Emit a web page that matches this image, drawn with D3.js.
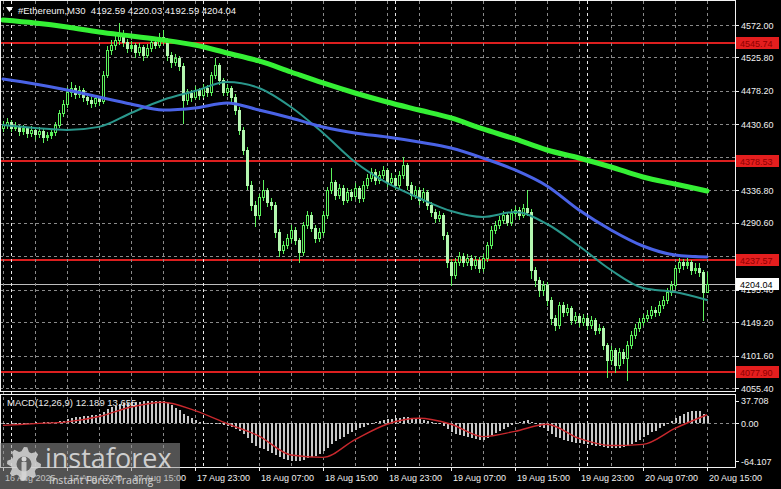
<!DOCTYPE html>
<html><head><meta charset="utf-8">
<script src="https://cdn.jsdelivr.net/npm/d3@7/dist/d3.min.js"></script>
<style>html,body{margin:0;padding:0;background:#000;overflow:hidden}svg{display:block}</style>
</head><body>
<svg id="c" width="781" height="489"></svg>
<script>
// ---------- DATA ----------
const opens = [
4425.0,4429.7,4434.0,4425.4,4428.3,4421.2,4425.4,4418.3,4422.6,4416.9,
4421.2,4412.6,4415.5,4419.7,4429.7,4446.8,4459.6,4476.7,4482.4,4473.8,
4479.5,4469.5,4465.3,4461.0,4468.1,4463.9,4500.9,4536.4,4543.5,4550.7,
4560.6,4547.8,4539.3,4543.5,4533.6,4540.7,4529.3,4539.3,4547.8,4543.5,
4554.9,4550.7,4529.3,4519.4,4525.0,4513.7,4465.3,4475.2,4469.5,4479.5,
4472.4,4482.4,4476.7,4500.9,4515.1,4493.7,4476.7,4482.4,4469.5,4451.0,
4422.6,4394.1,4344.3,4315.8,4301.6,4327.2,4337.2,4320.1,4315.8,4277.4,
4251.8,4258.9,4268.9,4280.3,4266.0,4249.0,4287.4,4301.6,4283.1,4268.9,
4277.4,4301.6,4337.2,4348.6,4330.1,4340.0,4323.0,4334.3,4328.7,4340.0,
4325.8,4344.3,4354.3,4362.8,4351.4,4358.5,4365.7,4348.6,4354.3,4344.3,
4358.5,4372.8,4344.3,4330.1,4337.2,4323.0,4334.3,4315.8,4305.9,4297.3,
4301.6,4273.2,4234.7,4216.2,4234.7,4243.3,4234.7,4240.4,4230.5,4237.6,
4226.2,4240.4,4258.9,4280.3,4287.4,4294.5,4301.6,4291.7,4304.5,4308.7,
4301.6,4311.6,4305.9,4223.3,4209.1,4194.9,4202.0,4180.7,4155.0,4145.1,
4173.5,4163.6,4169.3,4152.2,4157.9,4149.3,4155.0,4145.1,4152.2,4138.0,
4140.8,4116.6,4095.3,4109.5,4088.2,4106.7,4098.1,4116.6,4130.8,4140.8,
4149.3,4155.0,4159.3,4166.4,4163.6,4173.5,4180.7,4192.0,4202.0,4226.2,
4234.7,4230.5,4234.7,4223.3,4226.2,4220.5,4192.59];
const highs = [
4436.0,4440.2,4437.5,4433.9,4430.1,4429.8,4427.0,4428.4,4424.5,4426.7,
4423.8,4420.4,4424.3,4434.6,4451.2,4465.0,4484.3,4490.6,4486.1,4485.7,
4482.0,4473.0,4469.4,4472.9,4471.6,4506.3,4542.0,4550.1,4556.9,4574.9,
4564.3,4551.7,4549.2,4546.8,4546.0,4543.2,4544.5,4553.0,4551.6,4560.2,
4564.9,4553.4,4533.1,4530.8,4527.9,4518.0,4481.0,4479.6,4485.2,4483.0,
4488.7,4486.3,4505.4,4525.0,4518.3,4497.0,4488.1,4485.9,4473.2,4454.8,
4427.0,4398.2,4349.6,4321.0,4331.5,4351.4,4340.5,4326.3,4319.9,4281.2,
4265.1,4274.5,4286.8,4284.0,4269.5,4292.1,4308.0,4305.2,4287.0,4283.3,
4306.9,4342.0,4368.5,4352.0,4346.2,4343.8,4340.0,4338.1,4346.5,4343.2,
4349.8,4360.0,4368.9,4366.4,4364.1,4372.0,4369.2,4360.7,4358.0,4364.0,
4384.2,4376.0,4348.2,4343.0,4340.9,4339.6,4337.4,4320.2,4310.0,4307.0,
4305.0,4277.0,4239.5,4240.0,4249.5,4248.0,4246.1,4244.3,4243.0,4241.2,
4245.6,4263.8,4285.5,4293.0,4300.1,4307.4,4305.3,4310.2,4314.6,4312.3,
4317.0,4337.2,4309.5,4228.0,4213.4,4208.3,4205.6,4184.3,4160.0,4178.0,
4177.2,4175.0,4172.8,4163.5,4161.4,4160.7,4158.6,4158.0,4155.5,4146.3,
4144.0,4120.1,4115.8,4113.0,4112.2,4110.6,4122.0,4136.5,4146.9,4155.0,
4161.2,4165.8,4172.0,4170.5,4179.2,4186.0,4197.5,4208.1,4231.0,4240.2,
4238.9,4239.8,4237.5,4232.6,4233.0,4224.0,4220.03];
const lows = [
4421.5,4426.1,4420.8,4422.0,4415.6,4417.3,4412.9,4414.1,4410.2,4413.0,
4405.1,4408.8,4411.2,4416.0,4426.4,4441.9,4455.2,4471.5,4468.0,4469.3,
4464.2,4459.8,4455.7,4457.3,4458.2,4460.5,4497.8,4530.2,4538.4,4545.0,
4542.5,4533.0,4534.6,4527.1,4529.9,4522.4,4525.8,4535.1,4538.7,4540.0,
4545.3,4522.0,4512.6,4515.2,4508.3,4432.5,4460.1,4463.8,4466.0,4467.1,
4469.0,4471.2,4473.0,4496.2,4488.4,4471.9,4472.5,4463.0,4445.6,4416.3,
4388.5,4338.0,4309.4,4286.2,4297.0,4322.8,4315.0,4309.7,4270.1,4243.5,
4247.0,4254.2,4263.7,4260.6,4234.7,4245.2,4283.0,4278.4,4263.5,4264.0,
4273.8,4298.0,4333.5,4324.8,4326.0,4317.1,4319.4,4322.5,4324.9,4320.0,
4321.6,4340.2,4349.5,4346.0,4347.3,4354.0,4343.5,4344.1,4339.2,4340.6,
4354.9,4339.0,4324.7,4326.3,4317.5,4319.8,4310.0,4300.4,4291.5,4292.8,
4266.9,4228.3,4202.0,4212.3,4230.0,4229.6,4230.8,4224.7,4226.0,4219.8,
4222.1,4236.5,4255.0,4275.7,4283.2,4290.0,4286.8,4288.0,4300.1,4296.4,
4298.2,4301.0,4212.0,4200.5,4186.0,4188.2,4172.9,4146.2,4137.5,4141.0,
4158.4,4159.0,4146.0,4147.6,4143.8,4145.0,4139.3,4141.5,4132.0,4133.1,
4110.2,4071.0,4090.0,4078.4,4083.5,4090.3,4066.8,4112.0,4126.3,4136.0,
4144.5,4150.1,4154.7,4158.2,4159.8,4168.9,4176.3,4187.4,4198.0,4221.0,
4225.1,4226.4,4218.0,4219.4,4215.1,4152.2,4192.59];
const closes = [
4429.7,4434.0,4425.4,4428.3,4421.2,4425.4,4418.3,4422.6,4416.9,4421.2,
4412.6,4415.5,4419.7,4429.7,4446.8,4459.6,4476.7,4482.4,4473.8,4479.5,
4469.5,4465.3,4461.0,4468.1,4463.9,4500.9,4536.4,4543.5,4550.7,4560.6,
4547.8,4539.3,4543.5,4533.6,4540.7,4529.3,4539.3,4547.8,4543.5,4554.9,
4550.7,4529.3,4519.4,4525.0,4513.7,4465.3,4475.2,4469.5,4479.5,4472.4,
4482.4,4476.7,4500.9,4515.1,4493.7,4476.7,4482.4,4469.5,4451.0,4422.6,
4394.1,4344.3,4315.8,4301.6,4327.2,4337.2,4320.1,4315.8,4277.4,4251.8,
4258.9,4268.9,4280.3,4266.0,4249.0,4287.4,4301.6,4283.1,4268.9,4277.4,
4301.6,4337.2,4348.6,4330.1,4340.0,4323.0,4334.3,4328.7,4340.0,4325.8,
4344.3,4354.3,4362.8,4351.4,4358.5,4365.7,4348.6,4354.3,4344.3,4358.5,
4372.8,4344.3,4330.1,4337.2,4323.0,4334.3,4315.8,4305.9,4297.3,4301.6,
4273.2,4234.7,4216.2,4234.7,4243.3,4234.7,4240.4,4230.5,4237.6,4226.2,
4240.4,4258.9,4280.3,4287.4,4294.5,4301.6,4291.7,4304.5,4308.7,4301.6,
4311.6,4305.9,4223.3,4209.1,4194.9,4202.0,4180.7,4155.0,4145.1,4173.5,
4163.6,4169.3,4152.2,4157.9,4149.3,4155.0,4145.1,4152.2,4138.0,4140.8,
4116.6,4095.3,4109.5,4088.2,4106.7,4098.1,4116.6,4130.8,4140.8,4149.3,
4155.0,4159.3,4166.4,4163.6,4173.5,4180.7,4192.0,4202.0,4226.2,4234.7,
4230.5,4234.7,4223.3,4226.2,4220.5,4192.59,4204.04];

// moving averages and MACD signal, sampled every 8 bars
const sampleIdx = [0,8,16,24,32,40,48,56,64,72,80,88,96,104,112,120,128,136,144,152,160,168,176];
const ma200 = [4579.1,4574.9,4569.2,4562.0,4556.4,4550.7,4543.5,4532.2,4520.8,4505.1,4489.5,4475.2,4462.4,4451.0,4439.7,4424.0,4409.8,4394.1,4382.7,4369.9,4355.7,4345.7,4335.8];
const ma100 = [4495.2,4488.0,4479.5,4469.5,4459.6,4451.0,4453.9,4461.0,4451.0,4439.7,4426.9,4418.3,4412.6,4405.5,4397.0,4382.7,4365.7,4342.9,4308.7,4280.3,4257.5,4244.7,4241.8];
const ma50  = [4429.7,4425.4,4422.6,4427.0,4446.8,4465.3,4478.1,4490.9,4482.4,4455.3,4418.3,4377.0,4347.2,4325.8,4307.3,4298.8,4305.9,4288.8,4257.5,4223.3,4197.7,4192.0,4180.7];
const macdSignal = [-4,-1,2,11,27,35,21,-1,-22,-54,-58,-28,-2,8,-2,-23,-14,-2,-26,-38,-36,-9,14];

const macdMain = [
0.5,0.3,-0.2,0.4,0.8,0.5,0.2,0.6,1.0,0.8,
1.2,0.9,1.1,1.8,2.9,4.2,6.0,8.0,10.0,11.0,
12.0,12.5,13.0,14.0,15.0,19.0,24.0,27.0,29.0,31.5,
33.0,34.0,35.0,35.5,36.0,36.5,37.0,37.708,37.5,37.3,
37.0,33.0,30.0,26.0,22.0,16.0,12.0,8.0,5.0,2.0,
0.5,-1.0,-1.5,-1.0,-2.0,-4.0,-5.0,-7.0,-10.0,-14.0,
-19,-26,-33,-39,-42,-44,-47,-50,-54,-58,
-61,-62.5,-63.5,-64.107,-64.0,-62,-59,-57,-55,-52,
-48,-42,-36,-31,-27,-23,-19,-16,-12,-9,
-6,-3,-1,1,3,5,6,7,8,9,
11,10.5,9,8,6,5,3,1,-1,-2,
-5,-10,-15,-18,-20,-22,-24,-26,-27,-29,
-28,-25,-21,-17,-13,-10,-7,-4,-2,1,
3,5,2,-2,-6,-9,-13,-18,-23,-26,
-28,-30,-32,-33,-34,-35,-36,-37,-38,-39,
-40,-42,-42,-43,-42,-41,-39,-36,-32,-28,
-24,-20,-16,-13,-9,-5,-1,3,8,12,
15,18,20,21,20,15,12.189];

const priceTicks = [4572.00,4525.80,4478.20,4430.60,4384.40,4336.80,4290.60,4243.00,4195.40,4149.20,4101.60,4055.40];
const levels = [4545.74,4378.53,4237.57,4077.90];
const lastPrice = 4204.04;
const macdTicks = [37.708,0.00,-64.107];
const macdTickText = ["37.708","0.00","-64.107"];
const timeIdx = [0,16,32,48,64,80,96,112,128,144,160,176];
const timeLabels = ["16 Aug 2025","17 Aug 07:00","17 Aug 15:00","17 Aug 23:00","18 Aug 07:00","18 Aug 15:00","18 Aug 23:00","19 Aug 07:00","19 Aug 15:00","19 Aug 23:00","20 Aug 07:00","20 Aug 15:00"];
const daySepIdx = [2,50,98,146];
const titleText = "#Ethereum,M30  4192.59 4220.03 4192.59 4204.04";
const macdTitle = "MACD(12,26,9) 12.189 13.655";

// ---------- DRAW ----------
const svg = d3.select('#c');
const FONT = "'Liberation Sans', Arial, sans-serif";
const N = closes.length;
const x = d3.scaleLinear().domain([0, 176]).range([3, 707]);
const y = d3.scaleLinear().domain([4055.4, 4572]).range([388, 25]);
const ym = d3.scaleLinear().domain([-64.107, 37.708]).range([461, 400.7]);
const px = v => Math.round(v) + 0.5;
const RIGHT = 735, MAIN_B = 391, SUB_T = 394, SUB_B = 467;

svg.append('rect').attr('width', 781).attr('height', 489).attr('fill', '#000');

const defs = svg.append('defs');
defs.append('clipPath').attr('id', 'cm').append('rect').attr('x', 1).attr('y', 1).attr('width', RIGHT - 1).attr('height', MAIN_B - 1);
defs.append('clipPath').attr('id', 'cs').append('rect').attr('x', 1).attr('y', SUB_T + 1).attr('width', RIGHT - 1).attr('height', SUB_B - SUB_T - 1);

const gridC = '#8a8a8a';
const gm = svg.append('g').attr('clip-path', 'url(#cm)').attr('shape-rendering', 'crispEdges');
gm.selectAll('.hg').data(priceTicks).join('line')
  .attr('x1', 0).attr('x2', RIGHT).attr('y1', d => px(y(d))).attr('y2', d => px(y(d)))
  .attr('stroke', gridC).attr('stroke-dasharray', '3,3');
const gv = svg.append('g').attr('shape-rendering', 'crispEdges');
gv.selectAll('.vg').data(sampleIdx).join('line')
  .attr('x1', d => px(x(d))).attr('x2', d => px(x(d))).attr('y1', 1).attr('y2', SUB_B)
  .attr('stroke', gridC).attr('stroke-dasharray', '3,3');
gv.selectAll('.ds').data(daySepIdx).join('line')
  .attr('x1', d => px(x(d))).attr('x2', d => px(x(d))).attr('y1', 1).attr('y2', SUB_B)
  .attr('stroke', '#e8e8e8').attr('stroke-dasharray', '3,3');
svg.append('line').attr('x1', 0).attr('x2', RIGHT).attr('y1', px(ym(0))).attr('y2', px(ym(0)))
  .attr('stroke', gridC).attr('stroke-dasharray', '3,3').attr('shape-rendering', 'crispEdges');

gm.append('line').attr('x1', 0).attr('x2', RIGHT).attr('y1', px(y(lastPrice))).attr('y2', px(y(lastPrice)))
  .attr('stroke', '#bdbdbd');

// candles
const candleG = svg.append('g').attr('clip-path', 'url(#cm)').attr('shape-rendering', 'crispEdges');
const idx = d3.range(N);
const candleC = '#5cf25c';
candleG.selectAll('.wick').data(idx).join('line')
  .attr('x1', i => x(i) + 0.5).attr('x2', i => x(i) + 0.5)
  .attr('y1', i => Math.round(y(highs[i]))).attr('y2', i => Math.round(y(lows[i])) + 1)
  .attr('stroke', candleC);
candleG.selectAll('.body').data(idx).join('rect')
  .attr('x', i => x(i) - 1).attr('width', 3)
  .attr('y', i => Math.round(y(Math.max(opens[i], closes[i]))))
  .attr('height', i => Math.max(1, Math.round(y(Math.min(opens[i], closes[i]))) - Math.round(y(Math.max(opens[i], closes[i]))) + 1))
  .attr('fill', i => closes[i] >= opens[i] ? candleC : '#b4f7b0');
candleG.selectAll('.hol').data(idx.filter(i => closes[i] > opens[i] && (y(opens[i]) - y(closes[i])) > 3)).join('rect')
  .attr('x', i => x(i)).attr('width', 1)
  .attr('y', i => Math.round(y(closes[i])) + 1)
  .attr('height', i => Math.round(y(opens[i])) - Math.round(y(closes[i])) - 1)
  .attr('fill', '#000');

gm.selectAll('.lvl').data(levels).join('line')
  .attr('x1', 0).attr('x2', RIGHT).attr('y1', d => Math.round(y(d))).attr('y2', d => Math.round(y(d)))
  .attr('stroke', '#dc1f1f').attr('stroke-width', 2).attr('shape-rendering', 'crispEdges');

const maLine = arr => d3.line().x((d, k) => x(sampleIdx[k])).y(d => y(d)).curve(d3.curveMonotoneX)(arr);
const maG = svg.append('g').attr('clip-path', 'url(#cm)').attr('fill', 'none').attr('stroke-linecap', 'round');
maG.append('path').attr('d', maLine(ma50)).attr('stroke', '#2a978c').attr('stroke-width', 2);
maG.append('path').attr('d', maLine(ma100)).attr('stroke', '#4a63e6').attr('stroke-width', 3);
maG.append('path').attr('d', maLine(ma200)).attr('stroke', '#35f035').attr('stroke-width', 5);

// MACD
const sg = svg.append('g').attr('clip-path', 'url(#cs)').attr('shape-rendering', 'crispEdges');
sg.selectAll('.hb').data(idx).join('rect')
  .attr('x', i => x(i) - 0.5).attr('width', 2)
  .attr('y', i => Math.round(Math.min(ym(macdMain[i]), ym(0))))
  .attr('height', i => Math.max(1, Math.round(Math.abs(ym(macdMain[i]) - ym(0)))))
  .attr('fill', '#c8c8c8');
svg.append('g').attr('clip-path', 'url(#cs)').append('path')
  .attr('d', d3.line().x((d, k) => x(sampleIdx[k])).y(d => ym(d)).curve(d3.curveMonotoneX)(macdSignal))
  .attr('fill', 'none').attr('stroke', '#c8282d').attr('stroke-width', 1.4);

// frames
const fr = svg.append('g').attr('fill', 'none').attr('stroke', '#f2f2f2').attr('shape-rendering', 'crispEdges');
fr.append('rect').attr('x', 0.5).attr('y', 0.5).attr('width', RIGHT).attr('height', MAIN_B);
fr.append('rect').attr('x', 0.5).attr('y', SUB_T + 0.5).attr('width', RIGHT).attr('height', SUB_B - SUB_T);

// right price axis
const ax = svg.append('g').attr('font-family', FONT).attr('font-size', 9).attr('fill', '#f0f0f0');
ax.selectAll('.pt').data(priceTicks).join('line')
  .attr('x1', RIGHT).attr('x2', RIGHT + 4).attr('y1', d => px(y(d))).attr('y2', d => px(y(d)))
  .attr('stroke', '#f0f0f0').attr('shape-rendering', 'crispEdges');
// tick labels fully hidden behind a level box are not drawn (as in the reference)
const visibleTicks = priceTicks.filter(t => !levels.some(l => Math.abs(y(t) - y(l)) < 5.5));
ax.selectAll('.ptl').data(visibleTicks).join('text')
  .attr('x', 741).attr('y', d => y(d) + 3.5).text(d => d.toFixed(2));
const lv = ax.selectAll('.lvb').data(levels).join('g');
lv.append('rect').attr('x', 736).attr('y', d => Math.round(y(d)) - 6).attr('width', 43).attr('height', 12).attr('fill', '#e41e1e');
lv.append('text').attr('x', 740).attr('y', d => Math.round(y(d)) + 3.5).attr('fill', '#8e0000').text(d => d.toFixed(2));
ax.append('rect').attr('x', 736).attr('y', Math.round(y(lastPrice)) - 6).attr('width', 43).attr('height', 12).attr('fill', '#fff');
ax.append('text').attr('x', 740).attr('y', Math.round(y(lastPrice)) + 3.5).attr('fill', '#000').text(lastPrice.toFixed(2));
ax.selectAll('.mt').data(macdTicks).join('line')
  .attr('x1', RIGHT).attr('x2', RIGHT + 4).attr('y1', d => px(ym(d))).attr('y2', d => px(ym(d)))
  .attr('stroke', '#f0f0f0').attr('shape-rendering', 'crispEdges');
ax.selectAll('.mtl').data(macdTicks).join('text')
  .attr('x', 741).attr('y', d => ym(d) + 3.5).text((d, k) => macdTickText[k]);

// time axis
ax.selectAll('.tt').data(timeIdx).join('line')
  .attr('x1', i => px(x(i))).attr('x2', i => px(x(i))).attr('y1', SUB_B).attr('y2', SUB_B + 4)
  .attr('stroke', '#f0f0f0').attr('shape-rendering', 'crispEdges');
ax.selectAll('.ttl').data(timeIdx).join('text')
  .attr('x', i => x(i) + 2).attr('y', 481).text((i, k) => timeLabels[k]);

// titles
svg.append('path').attr('d', 'M6,7 L13,7 L9.5,12 Z').attr('fill', '#fff');
svg.append('text').attr('x', 18).attr('y', 14).attr('font-family', FONT).attr('font-size', 9.5)
  .attr('fill', '#f2f2f2').style('white-space', 'pre').text(titleText);
svg.append('text').attr('x', 7).attr('y', 406).attr('font-family', FONT).attr('font-size', 9.5)
  .attr('fill', '#e8e8e8').text(macdTitle);

// watermark
const wm = svg.append('g');
wm.append('rect').attr('x', 0).attr('y', 443).attr('width', 180).attr('height', 46).attr('fill', 'rgba(150,150,150,0.55)');
const gcx = 24, gcy = 464, teeth = 8;
const gearPts = [];
for (let k = 0; k < teeth * 4; k++) {
  const a = (k / (teeth * 4)) * Math.PI * 2 - Math.PI / 2;
  const r = (k % 4 === 0 || k % 4 === 1) ? 17 : 13;
  gearPts.push([gcx + r * Math.cos(a), gcy + r * Math.sin(a)]);
}
wm.append('path').attr('d', 'M' + gearPts.map(p => p.join(',')).join('L') + 'Z').attr('fill', '#d6d6d6').attr('opacity', 0.85);
wm.append('circle').attr('cx', gcx).attr('cy', gcy).attr('r', 7.5).attr('fill', '#5e5e5e');
wm.append('rect').attr('x', gcx - 2.5).attr('y', gcy - 2).attr('width', 5).attr('height', 18).attr('fill', '#d6d6d6').attr('opacity', 0.85);
wm.append('circle').attr('cx', gcx).attr('cy', gcy - 5).attr('r', 2.5).attr('fill', '#d6d6d6');
wm.append('text').attr('x', 45).attr('y', 468).attr('font-family', "'Open Sans', sans-serif").attr('font-size', 27)
  .attr('fill', '#dcdcdc').attr('opacity', 0.9).text('instaforex');
wm.append('text').attr('x', 49).attr('y', 484).attr('font-family', "'Open Sans', sans-serif").attr('font-size', 10.5)
  .attr('fill', '#e0e0e0').attr('opacity', 0.9).text('Instant Forex Trading');
</script>
</body></html>
